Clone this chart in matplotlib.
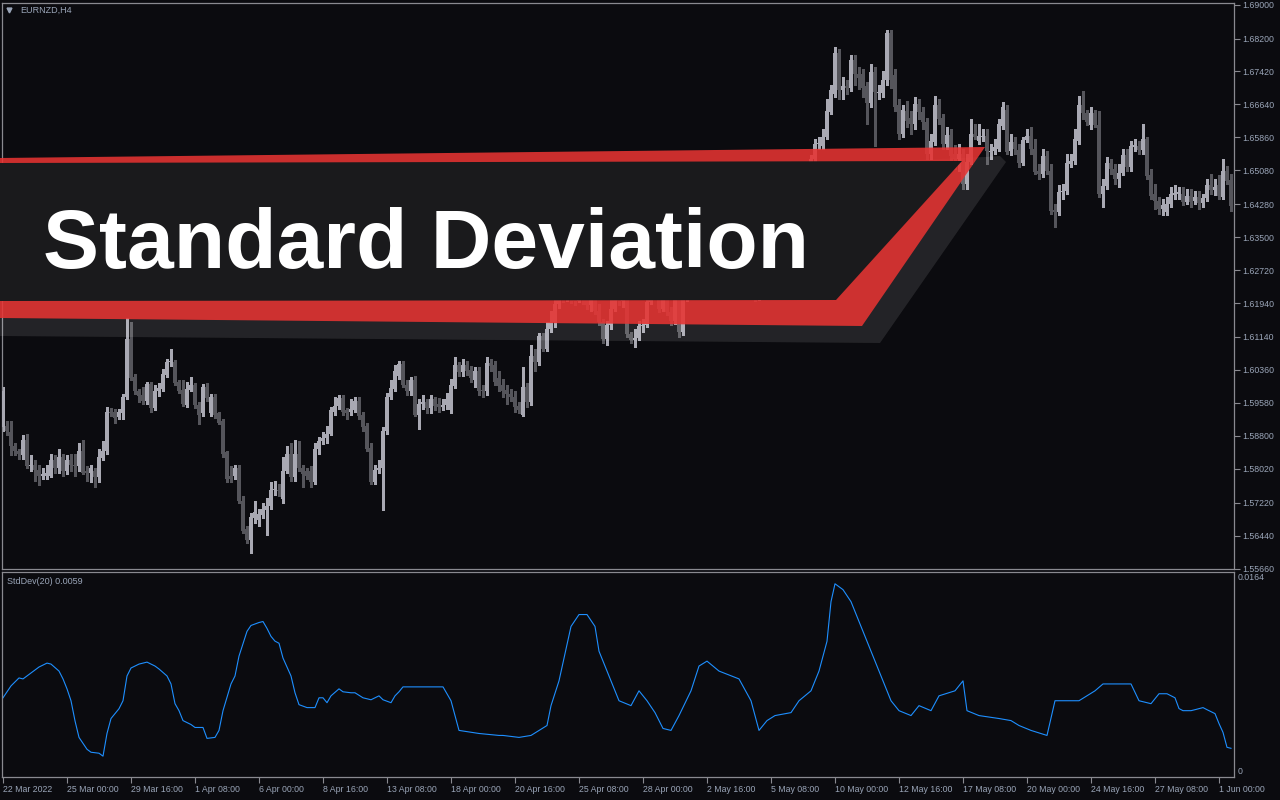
import numpy as np
import matplotlib
matplotlib.use("Agg")
import matplotlib.pyplot as plt
from matplotlib.patches import Polygon

# EURNZD H4 candles, values in pips above 1.5500
open_pips = [
    402, 404, 390, 355, 343, 334, 371, 308, 312, 300, 286, 286, 286, 324, 303, 329, 296, 322, 310, 308,
    345, 296, 293, 296, 282, 327, 343, 437, 437, 425, 435, 473, 610, 520, 485, 477, 463, 503, 447, 485,
    492, 525, 554, 555, 508, 489, 454, 489, 501, 454, 433, 496, 433, 473, 433, 414, 341, 286, 286, 303,
    227, 159, 133, 185, 180, 192, 204, 215, 251, 253, 230, 298, 336, 282, 338, 305, 296, 296, 272, 348,
    367, 374, 385, 437, 451, 470, 440, 437, 442, 463, 430, 404, 352, 272, 300, 303, 392, 473, 492, 522,
    551, 501, 487, 511, 430, 456, 461, 447, 466, 456, 449, 454, 440, 499, 548, 532, 548, 536, 511, 534,
    489, 485, 553, 548, 518, 501, 489, 480, 473, 451, 430, 496, 459, 569, 555, 617, 586, 633, 650, 692,
    723, 709, 732, 713, 699, 728, 704, 690, 706, 676, 650, 610, 643, 680, 709, 699, 718, 621, 607, 612,
    640, 643, 697, 716, 728, 680, 704, 673, 652, 704, 626, 709, 713, 723, 732, 739, 728, 737, 746, 739,
    751, 742, 732, 723, 730, 721, 713, 723, 716, 709, 721, 732, 751, 770, 787, 803, 822, 846, 869, 898,
    928, 964, 999, 1034, 1070, 1065, 1086, 1145, 1188, 1285, 1197, 1207, 1202, 1268, 1235, 1235, 1207, 1167, 1240, 1190,
    1190, 1221, 1334, 1233, 1162, 1093, 1148, 1131, 1117, 1164, 1145, 1122, 1046, 1074, 1162, 1131, 1070, 1091, 1046, 1034,
    1046, 975, 1027, 1093, 1077, 1086, 1089, 1051, 1053, 1058, 1112, 1152, 1053, 1074, 1056, 1025, 1079, 1089, 1058, 1006,
    999, 1041, 1006, 914, 909, 956, 959, 1023, 1030, 1077, 1162, 1143, 1115, 1143, 1115, 952, 971, 1025, 1011, 987,
    1001, 1044, 1016, 1063, 1065, 1056, 1082, 996, 952, 935, 916, 909, 928, 950, 952, 952, 933, 947, 935, 945,
    931, 942, 973, 961, 973, 945, 1006, 985,
]
high_pips = [
    496, 414, 414, 364, 350, 381, 385, 334, 322, 310, 303, 310, 336, 334, 348, 336, 334, 338, 336, 362,
    369, 308, 310, 305, 350, 367, 449, 447, 444, 444, 480, 659, 650, 527, 492, 496, 508, 508, 501, 506,
    539, 562, 586, 560, 513, 511, 508, 520, 506, 459, 503, 506, 480, 480, 437, 421, 345, 308, 312, 310,
    237, 166, 197, 227, 208, 220, 232, 272, 274, 267, 331, 357, 362, 371, 367, 312, 303, 308, 364, 378,
    390, 404, 449, 473, 477, 477, 447, 468, 473, 473, 437, 411, 362, 312, 322, 402, 482, 511, 548, 558,
    558, 513, 520, 522, 468, 477, 468, 477, 473, 470, 468, 482, 515, 567, 555, 562, 558, 546, 544, 544,
    501, 567, 562, 558, 534, 515, 501, 492, 487, 461, 544, 506, 595, 586, 624, 624, 650, 676, 716, 739,
    737, 751, 742, 723, 746, 737, 716, 728, 713, 692, 657, 652, 704, 728, 732, 737, 723, 626, 633, 652,
    657, 713, 732, 746, 732, 723, 709, 685, 723, 716, 728, 725, 733, 744, 750, 747, 748, 756, 754, 760,
    758, 749, 738, 741, 736, 728, 731, 730, 724, 729, 740, 758, 778, 796, 812, 830, 855, 878, 906, 936,
    972, 1008, 1044, 1082, 1086, 1105, 1176, 1211, 1301, 1296, 1228, 1223, 1282, 1282, 1252, 1247, 1218, 1259, 1252, 1211,
    1242, 1339, 1341, 1247, 1176, 1162, 1171, 1148, 1181, 1176, 1157, 1133, 1093, 1183, 1176, 1141, 1110, 1105, 1067, 1070,
    1058, 1046, 1129, 1117, 1117, 1105, 1105, 1070, 1082, 1129, 1169, 1162, 1093, 1086, 1070, 1086, 1105, 1110, 1082, 1023,
    1058, 1053, 1023, 928, 973, 975, 1046, 1046, 1105, 1183, 1195, 1152, 1157, 1152, 1148, 987, 1039, 1034, 1023, 1023,
    1058, 1058, 1077, 1082, 1077, 1117, 1086, 1011, 975, 945, 940, 945, 968, 973, 968, 968, 964, 964, 959, 959,
    952, 987, 999, 987, 997, 1034, 1018, 999,
]
low_pips = [
    392, 381, 334, 334, 326, 326, 303, 298, 274, 263, 277, 279, 282, 293, 293, 284, 289, 298, 286, 298,
    289, 274, 272, 258, 270, 324, 336, 426, 411, 421, 421, 468, 513, 480, 461, 456, 456, 437, 442, 475,
    485, 520, 546, 501, 482, 451, 449, 485, 447, 409, 426, 463, 426, 423, 407, 331, 270, 272, 279, 220,
    149, 126, 102, 175, 166, 185, 145, 208, 239, 237, 220, 291, 274, 274, 296, 260, 277, 260, 265, 338,
    360, 364, 381, 430, 444, 430, 421, 430, 437, 421, 392, 343, 267, 265, 291, 204, 385, 466, 485, 515,
    496, 477, 477, 426, 397, 444, 433, 435, 442, 437, 440, 444, 433, 494, 522, 522, 525, 508, 496, 477,
    473, 477, 534, 501, 485, 473, 456, 463, 437, 435, 428, 449, 454, 534, 548, 581, 581, 626, 638, 683,
    697, 699, 695, 690, 697, 692, 680, 676, 669, 643, 600, 595, 633, 676, 690, 685, 614, 600, 591, 607,
    626, 638, 692, 704, 673, 676, 666, 643, 645, 614, 619, 700, 705, 716, 724, 718, 720, 730, 728, 733,
    734, 722, 714, 716, 710, 703, 706, 708, 698, 702, 715, 726, 744, 762, 780, 795, 815, 838, 860, 890,
    920, 955, 990, 1025, 1058, 1058, 1082, 1141, 1181, 1176, 1176, 1188, 1195, 1211, 1200, 1181, 1117, 1157, 1065, 1176,
    1181, 1211, 1204, 1148, 1082, 1086, 1110, 1093, 1105, 1129, 1105, 1034, 1034, 1067, 1117, 1058, 1058, 1023, 1011, 1006,
    964, 964, 1023, 1082, 1070, 1077, 1023, 1034, 1046, 1053, 1105, 1046, 1044, 1046, 1016, 1020, 1074, 1046, 999, 987,
    992, 999, 905, 874, 902, 940, 952, 1016, 1023, 1070, 1129, 1115, 1105, 1110, 945, 921, 964, 999, 975, 968,
    997, 1006, 1006, 1053, 1046, 1046, 987, 940, 916, 905, 902, 902, 921, 940, 940, 926, 928, 921, 928, 916,
    921, 935, 952, 949, 940, 940, 975, 912,
]
close_pips = [
    485, 392, 357, 343, 336, 371, 308, 312, 300, 286, 289, 291, 324, 303, 329, 296, 322, 310, 308, 345,
    293, 291, 303, 282, 329, 345, 437, 433, 423, 437, 473, 610, 518, 485, 475, 463, 503, 447, 485, 494,
    527, 555, 557, 506, 487, 456, 492, 501, 454, 430, 496, 470, 473, 430, 411, 338, 277, 277, 303, 225,
    156, 133, 187, 201, 194, 206, 215, 251, 253, 249, 298, 336, 282, 338, 305, 289, 286, 272, 350, 367,
    376, 385, 440, 451, 470, 437, 433, 444, 463, 428, 402, 350, 272, 300, 305, 392, 473, 494, 534, 551,
    501, 487, 511, 430, 456, 461, 447, 466, 451, 449, 454, 466, 501, 548, 532, 548, 534, 518, 534, 487,
    485, 553, 546, 508, 499, 487, 480, 473, 449, 442, 496, 459, 569, 555, 617, 586, 633, 650, 692, 723,
    709, 732, 713, 699, 728, 704, 690, 706, 676, 650, 610, 643, 680, 709, 699, 718, 621, 607, 612, 640,
    643, 697, 716, 728, 680, 704, 673, 652, 704, 626, 709, 713, 723, 732, 739, 728, 737, 746, 739, 751,
    742, 732, 723, 730, 721, 713, 723, 716, 709, 721, 732, 751, 770, 787, 803, 822, 846, 869, 898, 928,
    964, 999, 1034, 1070, 1072, 1086, 1148, 1197, 1285, 1197, 1207, 1204, 1268, 1235, 1226, 1204, 1167, 1240, 1193, 1193,
    1223, 1334, 1221, 1159, 1093, 1150, 1126, 1117, 1164, 1145, 1122, 1046, 1077, 1162, 1129, 1070, 1091, 1041, 1034, 1046,
    975, 1027, 1093, 1086, 1089, 1089, 1053, 1053, 1063, 1117, 1157, 1051, 1074, 1058, 1025, 1079, 1089, 1058, 1004, 999,
    1041, 1006, 912, 909, 956, 958, 1025, 1030, 1082, 1162, 1143, 1122, 1143, 1115, 952, 971, 1025, 1011, 987, 1001,
    1044, 1016, 1065, 1068, 1056, 1082, 994, 947, 935, 916, 926, 928, 952, 954, 956, 933, 947, 933, 945, 931,
    942, 973, 961, 968, 947, 1006, 982, 923,
]

# StdDev(20) line, read at these bar numbers
std_bars = [
    0, 2, 4, 5, 6, 7, 9, 11, 12, 14,
    15, 16, 17, 18, 19, 21, 22, 24, 25, 26,
    27, 29, 30, 31, 32, 34, 35, 36, 38, 39,
    41, 42, 43, 44, 45, 47, 48, 50, 51, 53,
    54, 55, 57, 58, 59, 60, 61, 62, 64, 65,
    66, 67, 68, 69, 70, 72, 73, 74, 76, 78,
    79, 80, 81, 82, 84, 85, 87, 88, 90, 92,
    94, 95, 97, 98, 99, 100, 104, 110, 112, 114,
    119, 124, 125, 129, 132, 136, 137, 139, 142, 144,
    146, 148, 149, 152, 154, 157, 159, 161, 163, 165,
    167, 169, 172, 174, 176, 179, 184, 187, 189, 191,
    193, 197, 199, 202, 204, 206, 207, 208, 210, 212,
    214, 217, 219, 222, 224, 227, 229, 232, 234, 238,
    240, 241, 244, 249, 252, 254, 257, 261, 263, 264,
    269, 273, 275, 282, 284, 287, 289, 291, 293, 294,
    295, 297, 298, 300, 301, 303, 304, 305, 306, 307,
]
std_vals = [
    0.00638, 0.00735, 0.00800, 0.00792, 0.00816, 0.00840, 0.00889, 0.00921, 0.00913, 0.00856,
    0.00792, 0.00711, 0.00614, 0.00450, 0.00315, 0.00218, 0.00194, 0.00186, 0.00162, 0.00347,
    0.00469, 0.00549, 0.00614, 0.00816, 0.00881, 0.00913, 0.00921, 0.00929, 0.00897, 0.00873,
    0.00816, 0.00751, 0.00590, 0.00533, 0.00452, 0.00420, 0.00396, 0.00396, 0.00307, 0.00315,
    0.00372, 0.00533, 0.00751, 0.00816, 0.00978, 0.01080, 0.01180, 0.01228, 0.01252, 0.01260,
    0.01204, 0.01139, 0.01100, 0.01083, 0.00962, 0.00816, 0.00679, 0.00582, 0.00558, 0.00558,
    0.00638, 0.00638, 0.00598, 0.00654, 0.00711, 0.00687, 0.00679, 0.00679, 0.00638, 0.00622,
    0.00654, 0.00622, 0.00598, 0.00654, 0.00687, 0.00727, 0.00727, 0.00727, 0.00614, 0.00372,
    0.00347, 0.00331, 0.00331, 0.00315, 0.00331, 0.00412, 0.00574, 0.00776, 0.01220, 0.01317,
    0.01317, 0.01220, 0.01018, 0.00776, 0.00614, 0.00574, 0.00695, 0.00614, 0.00517, 0.00388,
    0.00372, 0.00493, 0.00695, 0.00897, 0.00937, 0.00856, 0.00792, 0.00614, 0.00372, 0.00452,
    0.00493, 0.00517, 0.00614, 0.00695, 0.00856, 0.01099, 0.01422, 0.01568, 0.01520, 0.01422,
    0.01260, 0.01018, 0.00856, 0.00614, 0.00533, 0.00493, 0.00574, 0.00533, 0.00654, 0.00695,
    0.00776, 0.00533, 0.00493, 0.00469, 0.00452, 0.00412, 0.00372, 0.00331, 0.00614, 0.00614,
    0.00614, 0.00695, 0.00751, 0.00751, 0.00614, 0.00590, 0.00671, 0.00671, 0.00638, 0.00550,
    0.00533, 0.00533, 0.00541, 0.00558, 0.00541, 0.00509, 0.00428, 0.00356, 0.00234, 0.00226,
]

price_ticks = [1.69000, 1.68200, 1.67420, 1.66640, 1.65860, 1.65080, 1.64280, 1.63500, 1.62720,
               1.61940, 1.61140, 1.60360, 1.59580, 1.58800, 1.58020, 1.57220, 1.56440, 1.55660]
time_labels = ["22 Mar 2022", "25 Mar 00:00", "29 Mar 16:00", "1 Apr 08:00", "6 Apr 00:00",
               "8 Apr 16:00", "13 Apr 08:00", "18 Apr 00:00", "20 Apr 16:00", "25 Apr 08:00",
               "28 Apr 00:00", "2 May 16:00", "5 May 08:00", "10 May 00:00", "12 May 16:00",
               "17 May 08:00", "20 May 00:00", "24 May 16:00", "27 May 08:00", "1 Jun 00:00"]
bars_per_label = 16

bg = "#0b0b0f"
frame = "#8a8a90"
txt = "#9aa5b8"
up_col = "#a9a9b3"
dn_col = "#55555b"

o = 1.55 + np.array(open_pips) / 1e4
h = 1.55 + np.array(high_pips) / 1e4
l = 1.55 + np.array(low_pips) / 1e4
c = 1.55 + np.array(close_pips) / 1e4
x = np.arange(len(o))

fig = plt.figure(figsize=(12.8, 8), dpi=100, facecolor=bg)
W, H = 1280, 800

ax = fig.add_axes([2 / W, (H - 569) / H, 1232 / W, 566 / H], facecolor=bg)
ax2 = fig.add_axes([2 / W, (H - 777) / H, 1232 / W, 205 / H], facecolor=bg)

for a in (ax, ax2):
    for s in a.spines.values():
        s.set_color(frame)
        s.set_linewidth(0.9)
    a.set_xlim(-0.25, 307.75)

# candles
cols = np.where(c >= o, up_col, dn_col)
ax.vlines(x, l, h, colors=cols, linewidth=0.75, zorder=2, antialiased=False)
body = np.maximum(np.abs(c - o), 0.00024)
ax.bar(x, body, bottom=np.minimum(o, c), width=0.78, color=cols, linewidth=0,
       zorder=3, antialiased=False)
ax.set_ylim(1.5565, 1.6904)

ax.yaxis.tick_right()
ax.set_yticks(price_ticks, [f"{v:.5f}" for v in price_ticks])
ax.tick_params(axis="y", colors=frame, labelcolor=txt, labelsize=6.3, length=4, width=0.8, pad=2)
for t in ax.get_yticklabels():
    t.set_fontfamily("Liberation Sans")
ax.set_xticks([])

ax.text(18 / 1232, 1 - 7 / 566, "EURNZD,H4", transform=ax.transAxes, color=txt,
        fontsize=6.5, family="Liberation Sans", va="center", ha="left")
ax.plot([7 / 1232], [1 - 7 / 566], marker="v", color=txt, markersize=3.5, zorder=5,
        transform=ax.transAxes, clip_on=False)

# std dev panel
ax2.plot(std_bars, std_vals, color="#1e8fff", linewidth=0.8)
ax2.set_ylim(-0.00008, 0.01664)
ax2.set_yticks([])
ticks = np.arange(len(time_labels)) * bars_per_label
ax2.set_xticks(ticks, time_labels)
ax2.tick_params(axis="x", colors=frame, labelcolor=txt, labelsize=6.3, length=4, width=0.8, pad=2)
for t in ax2.get_xticklabels():
    t.set_horizontalalignment("left")
    t.set_fontfamily("Liberation Sans")
ax2.text(5 / 1232, 1 - 9 / 205, "StdDev(20) 0.0059", transform=ax2.transAxes, color=txt,
         fontsize=6.5, family="Liberation Sans", va="center", ha="left")
ax2.text(1.0 + 4 / 1232, 1 - 6 / 205, "0.0164", transform=ax2.transAxes, color=txt,
         fontsize=6.3, family="Liberation Sans", va="center", ha="left")
ax2.text(1.0 + 4 / 1232, 5 / 205, "0", transform=ax2.transAxes, color=txt,
         fontsize=6.3, family="Liberation Sans", va="center", ha="left")

# banner overlay, in pixel coordinates
ov = fig.add_axes([0, 0, 1, 1])
ov.set_xlim(0, W)
ov.set_ylim(H, 0)
ov.axis("off")
ov.patch.set_alpha(0)

shadow = Polygon([(0, 200), (985, 157), (1000, 156), (1006, 162), (880, 343), (0, 336)],
                 closed=True, facecolor=(1, 1, 1, 0.1), edgecolor="none")
red = Polygon([(0, 158), (985, 147), (862, 326), (0, 318)],
              closed=True, facecolor=(230 / 255, 51 / 255, 50 / 255, 0.88), edgecolor="none")
band = Polygon([(0, 163), (962, 161), (836, 300), (0, 301)],
               closed=True, facecolor="#1a1a1c", edgecolor="none")
for p in (shadow, red, band):
    ov.add_patch(p)

ov.text(43, 268, "Standard Deviation", color="white", fontsize=60.5, fontweight="bold",
        family="Liberation Sans", ha="left", va="baseline")

fig.savefig("out.png", dpi=100, facecolor=bg)
